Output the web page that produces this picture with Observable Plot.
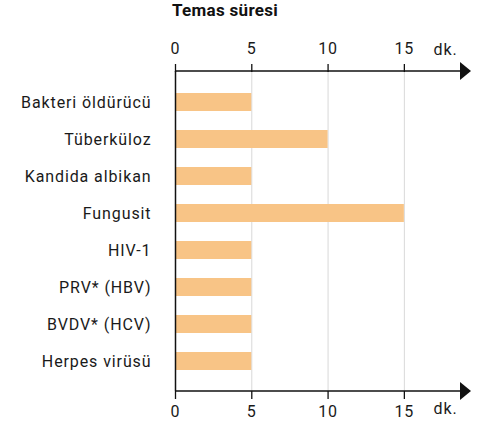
<!DOCTYPE html>
<html><head><meta charset="utf-8">
<script src="https://cdn.jsdelivr.net/npm/d3@7"></script>
<script src="https://cdn.jsdelivr.net/npm/@observablehq/plot@0.6"></script>
<style>
body{margin:0;background:#fff;font-family:Roboto,sans-serif;}
#wrap{position:relative;width:486px;height:432px;}
#title{position:absolute;left:172px;top:0px;font:bold 17px Roboto,sans-serif;letter-spacing:0.3px;color:#111;}
svg text{letter-spacing:0.9px;}
</style></head><body><div id="wrap"><div id="title"></div></div>
<script>
const title = "Temas süresi";
const categories = ["Bakteri öldürücü","Tüberküloz","Kandida albikan","Fungusit","HIV-1","PRV* (HBV)","BVDV* (HCV)","Herpes virüsü"];
const values = [5,10,5,15,5,5,5,5];
const xTicks = [0,5,10,15];
const unitLabel = "dk.";
const unitPos = 17.7;
const xMax = 19.4;

document.getElementById("title").textContent = title;
const data = categories.map((c,i)=>({name:c, value:values[i]}));

function axisArrows(index, scales, vals, dims) {
  const x = scales.x;
  const g = d3.create("svg:g");
  const ys = [dims.marginTop, dims.height - dims.marginBottom];
  const xs = x(0), xe = x(xMax);
  for (const y of ys) {
    g.append("line").attr("x1", xs).attr("x2", xe - 8).attr("y1", y).attr("y2", y)
      .attr("stroke", "#111").attr("stroke-width", 1.5);
    g.append("path").attr("d", `M${xe},${y}L${xe-11},${y-9}L${xe-11},${y+9}Z`).attr("fill", "#111");
  }
  return g.node();
}

const chart = Plot.plot({
  width: 486, height: 432,
  marginLeft: 175, marginRight: 15, marginTop: 71, marginBottom: 41,
  style: {fontFamily: "Roboto, sans-serif", fontSize: "16px", color: "#1a1a1a", background: "#fff"},
  x: {domain: [0, xMax], axis: null},
  y: {domain: categories, paddingInner: 0.526, paddingOuter: 0.474, axis: null},
  marks: [
    Plot.ruleX(xTicks.filter(d => d > 0), {stroke: "#d9d9d9", strokeWidth: 1}),
    Plot.barX(data, {x: "value", y: "name", fill: "#F8C486"}),
    Plot.ruleX([0], {stroke: "#111", strokeWidth: 1.5}),
    Plot.axisX({anchor: "top", ticks: xTicks, tickSize: 8, tickPadding: 10, fontSize: 16, label: null, stroke: "#111", strokeWidth: 1.3, fill: "#1a1a1a"}),
    Plot.axisX({anchor: "bottom", ticks: xTicks, tickSize: 8, tickPadding: 6, fontSize: 16, label: null, stroke: "#111", strokeWidth: 1.3, fill: "#1a1a1a"}),
    Plot.axisY({tickSize: 0, tickPadding: 24, fontSize: 16, label: null, fill: "#1a1a1a"}),
    Plot.text([unitLabel], {x: [unitPos], text: d => d, frameAnchor: "top", dy: -28, fontSize: 16, fill: "#1a1a1a"}),
    Plot.text([unitLabel], {x: [unitPos], text: d => d, frameAnchor: "bottom", dy: 22, fontSize: 16, fill: "#1a1a1a"}),
    axisArrows
  ]
});
document.getElementById("wrap").appendChild(chart);
</script></body></html>
